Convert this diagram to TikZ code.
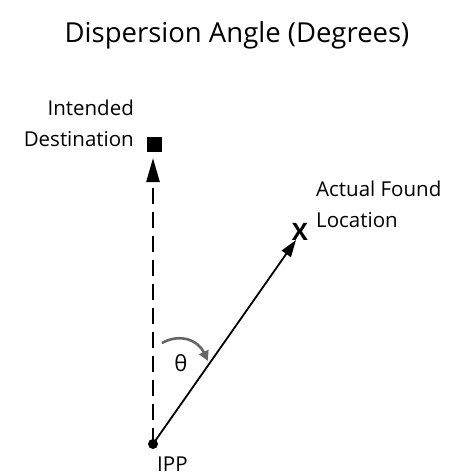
\documentclass[tikz,border=0pt]{standalone}
\usepackage{fontspec}
\setmainfont{Open Sans}
\usetikzlibrary{arrows.meta}
\begin{document}
\begin{tikzpicture}[x=1pt,y=-1pt,
  lbl/.style={font=\fontsize{20.5}{31}\selectfont, inner sep=0pt},
  solidarrow/.style={line width=1.8pt, -{Triangle[length=17pt,width=11pt]}},
  dasharrow/.style={line width=2.5pt, dash pattern=on 16pt off 8pt, -{Triangle[length=24pt,width=13pt]}}]
\useasboundingbox (0,0) rectangle (460,474);
\node[font=\fontsize{27.5}{30}\selectfont, inner sep=0pt] (title) at (237,35) {Dispersion Angle (Degrees)};
\node[circle, fill=black, minimum size=10pt, inner sep=0pt] (ipp) at (153,444) {};
\node[lbl, anchor=west] (ippl) at (157,464) {IPP};
\node[fill=black, minimum size=15pt, inner sep=0pt] (dest) at (154,144) {};
\coordinate (desttip) at (153,158);
\node[lbl, align=right, anchor=east] (destl) at (134,123) {Intended\\Destination};
\node[font=\fontsize{24}{28}\bfseries\selectfont, inner sep=0pt] (found) at (300,232) {X};
\coordinate (foundtip) at (296,240);
\node[lbl, align=left, anchor=west] (foundl) at (316,204) {Actual Found\\Location};
\coordinate (arcs) at (162,343);
\coordinate (arce) at (208,361);
\draw[dasharrow] (ipp.center) -- (desttip);
\draw[solidarrow] (ipp.center) -- (foundtip);
\draw[black!60, line width=2.6pt, -{Triangle[length=10pt,width=10pt]}] (arcs) .. controls (180,333) and (198,340) .. (arce);
\node[font=\fontsize{22}{26}\selectfont, inner sep=0pt] (theta) at (181,363) {θ};
\end{tikzpicture}
\end{document}
